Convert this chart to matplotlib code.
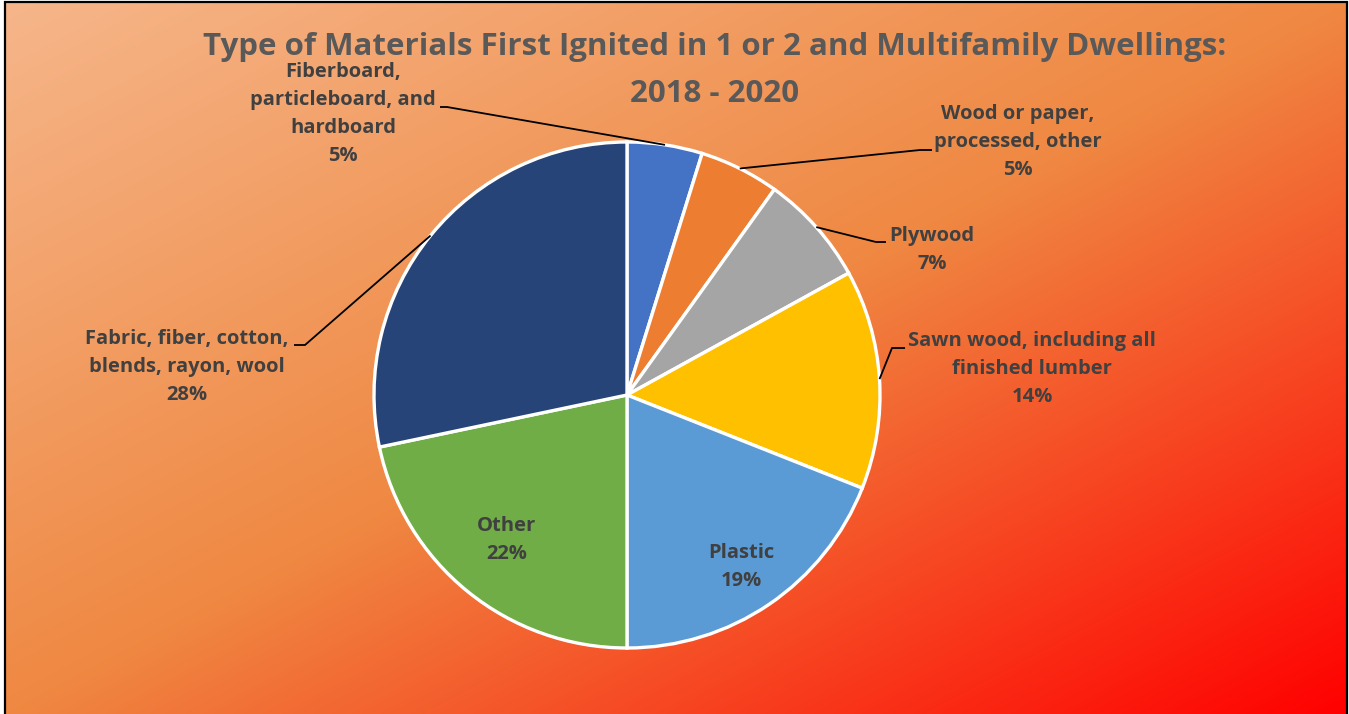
import numpy as np
import matplotlib
matplotlib.use("Agg")
import matplotlib.pyplot as plt
from matplotlib.patches import Rectangle

# ---- data ----
categories = ["Fiberboard,\nparticleboard, and\nhardboard",
              "Wood or paper,\nprocessed, other",
              "Plywood",
              "Sawn wood, including all\nfinished lumber",
              "Plastic",
              "Other",
              "Fabric, fiber, cotton,\nblends, rayon, wool"]
values = [4.8, 5.1, 7.1, 14.0, 19.0, 21.7, 28.3]
pct_labels = ["5%", "5%", "7%", "14%", "19%", "22%", "28%"]
colors = ["#4472C4", "#ED7D31", "#A5A5A5", "#FFC000", "#5B9BD5", "#70AD47", "#264478"]
title_lines = ["Type of Materials First Ignited in 1 or 2 and Multifamily Dwellings:", "2018 - 2020"]

W, H = 1349, 714
plt.rcParams['font.family'] = ['Open Sans', 'DejaVu Sans']

fig = plt.figure(figsize=(W / 100, H / 100), dpi=100)
fig.patch.set_facecolor("white")
ax = fig.add_axes([0, 0, 1, 1])
ax.set_xlim(0, W)
ax.set_ylim(0, H)
ax.axis("off")

def Y(y):
    return H - y

# gradient background
nx, ny = 400, 220
xs = np.linspace(0, 1, nx)
ys = np.linspace(0, 1, ny)
XX, YY = np.meshgrid(xs, ys)
t = (XX + YY) / 2
c0 = np.array([246, 182, 138]) / 255
c1 = np.array([239, 136, 66]) / 255
c2 = np.array([255, 0, 0]) / 255
img = np.zeros((ny, nx, 3))
for k in range(3):
    img[..., k] = np.where(t < 0.5,
                           c0[k] + (c1[k] - c0[k]) * (t / 0.5),
                           c1[k] + (c2[k] - c1[k]) * ((t - 0.5) / 0.5))
ax.imshow(img, extent=(6, 1347, Y(H), Y(3)), origin="upper", aspect="auto", zorder=0,
          interpolation="bilinear")
ax.add_patch(Rectangle((5, Y(H + 5)), 1342, H + 3, fill=False, edgecolor="black", lw=1.6, zorder=1))

# pie
cx, cy, R = 627, 395, 253
wedges, _ = ax.pie(values, colors=colors, startangle=90, counterclock=False,
                   center=(cx, Y(cy)), radius=R, frame=True,
                   wedgeprops=dict(edgecolor="white", linewidth=2.4))
for w in wedges:
    w.set_zorder(2)
ax.set_xlim(0, W)
ax.set_ylim(0, H)
ax.set_aspect("equal")
ax.axis("off")

txt_color = "#404040"
fs = 14.5

# label positions (pixel, center of text block) and leader elbows
label_pos = [(343, 114), (1018, 142), (932, 250), (1032, 369), (741, 567), (507, 540), (187, 367)]
leader_elbow = [((447, 107), (440, 107)),
                ((920, 150), (932, 150)),
                ((876, 242), (886, 242)),
                ((892, 348), (905, 348)),
                None, None,
                ((305, 345), (294, 345))]

for i, w in enumerate(wedges):
    x, y = label_pos[i]
    ax.text(x, Y(y), categories[i] + "\n" + pct_labels[i], ha="center", va="center",
            fontsize=fs, fontweight="bold", color=txt_color, linespacing=1.55, zorder=4)
    if leader_elbow[i] is not None:
        ang = np.deg2rad((w.theta1 + w.theta2) / 2)
        ax_ = cx + R * np.cos(ang)
        ay_ = Y(cy) + R * np.sin(ang)
        (ex, ey), (hx, hy) = leader_elbow[i]
        ax.plot([ax_, ex, hx], [ay_, Y(ey), Y(hy)], color="black", lw=1.3, zorder=3,
                solid_capstyle="butt")

for ty, line in zip([47, 94], title_lines):
    ax.text(715, Y(ty), line, ha="center", va="center", fontsize=22.5, fontweight="bold",
            color="#595959", zorder=4)

fig.savefig("out.png", dpi=100)
